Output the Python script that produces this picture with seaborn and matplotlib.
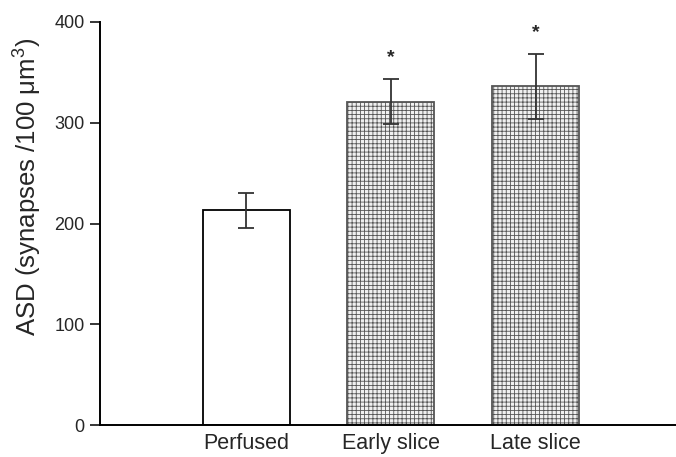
import matplotlib
matplotlib.use("Agg")
import matplotlib.pyplot as plt
import seaborn as sns
import pandas as pd

groups = ["Perfused", "Early slice", "Late slice"]
asd_mean = [213, 321, 336]
asd_err = [17, 22, 32]
significant = [False, True, True]

sns.set_style("white")
plt.rcParams["font.family"] = ["Liberation Sans", "DejaVu Sans"]
plt.rcParams["mathtext.fontset"] = "custom"
plt.rcParams["mathtext.rm"] = "Liberation Sans"
plt.rcParams["mathtext.it"] = "Liberation Sans:italic"
plt.rcParams["hatch.linewidth"] = 0.6
plt.rcParams["hatch.color"] = "#9a9a9a"

df = pd.DataFrame({"group": groups, "asd": asd_mean})

fig = plt.figure(figsize=(6.76, 4.57), dpi=100)
ax = fig.add_axes([100 / 676, 32 / 457, 576 / 676, 403 / 457])

sns.barplot(data=df, x="group", y="asd", order=groups, width=0.6,
            color="white", edgecolor="black", linewidth=1.3,
            errorbar=None, ax=ax)

for patch, sig in zip(ax.patches, significant):
    if sig:
        patch.set_facecolor("#f0f0f0")
        patch.set_hatch("++++")
        patch.set_edgecolor("#555555")

xs = list(range(len(groups)))
ax.errorbar(xs, asd_mean, yerr=asd_err, fmt="none", ecolor="#333333",
            elinewidth=1.3, capsize=6, capthick=1.3, zorder=5)

for x, m, e, sig in zip(xs, asd_mean, asd_err, significant):
    if sig:
        ax.text(x, m + e + 13, "*", ha="center", va="bottom",
                fontsize=14, fontweight="bold")

ax.set_ylim(0, 400)
ax.set_xlim(-1.01, 2.97)
ax.set_yticks([0, 100, 200, 300, 400])
ax.tick_params(axis="y", which="both", direction="out", length=7,
               width=1.3, left=True, labelsize=13, pad=4)
ax.tick_params(axis="x", length=0, labelsize=15.5, pad=6)
ax.set_xlabel("")
ax.set_ylabel(r"ASD (synapses /100 $\mathrm{\mu}$m$^3$)", fontsize=18.5)
ax.yaxis.set_label_coords(-0.098, 0.59)

for side in ["top", "right"]:
    ax.spines[side].set_visible(False)
for side in ["left", "bottom"]:
    ax.spines[side].set_linewidth(1.4)
    ax.spines[side].set_color("black")

fig.savefig("out.png", dpi=100)
